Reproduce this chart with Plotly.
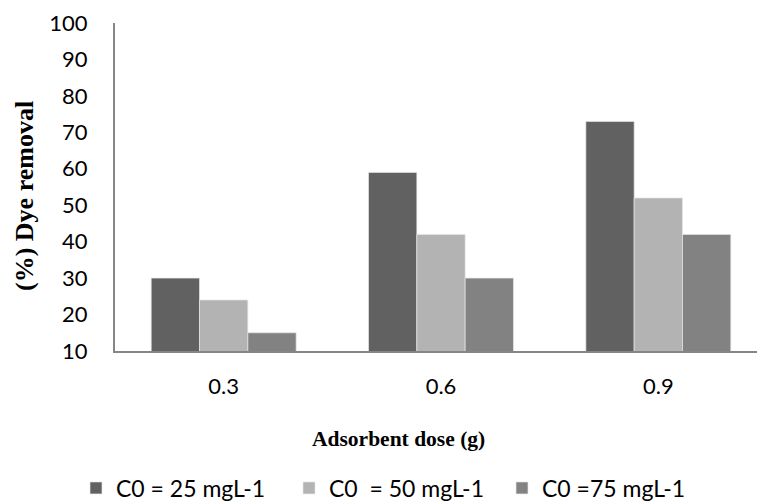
import plotly.graph_objects as go

categories = ["0.3", "0.6", "0.9"]
series_names = ["C0 = 25 mgL-1", "C0  = 50 mgL-1", "C0 =75 mgL-1"]
c25 = [30, 59, 73]
c50 = [24, 42, 52]
c75 = [15, 30, 42]
colors = ["#616161", "#b3b3b3", "#828282"]

fig = go.Figure()
for name, vals, col in zip(series_names, [c25, c50, c75], colors):
    fig.add_trace(go.Bar(x=categories, y=vals, name=name,
                         marker=dict(color=col, line=dict(color="#e6e6e6", width=0.7))))

tick_font = dict(family="Lato", size=22, color="#000000")

fig.update_layout(
    width=757, height=501,
    margin=dict(l=115, r=0, t=23, b=150),
    plot_bgcolor="white", paper_bgcolor="white",
    barmode="group", bargap=0.333, bargroupgap=0,
    showlegend=True,
    legend=dict(orientation="h", xref="container", yref="container",
                x=76 / 757, xanchor="left", y=1 - 488 / 501, yanchor="middle",
                font=dict(family="Lato", size=23, color="#000000"),
                entrywidth=168, traceorder="normal"),
    xaxis=dict(range=[-0.5, 2.454], showline=True, linecolor="#868686", linewidth=2,
               showgrid=False, ticks="", tickfont=tick_font, ticklabelstandoff=15),
    yaxis=dict(range=[10, 100], dtick=10, showline=True, linecolor="#868686", linewidth=2,
               showgrid=False, zeroline=False, ticks="", tickfont=tick_font,
               ticklabelstandoff=21),
    annotations=[
        dict(text="<b>Adsorbent dose (g)</b>", xref="paper", yref="paper",
             x=(398.5 - 115) / 642, y=(351 - 439) / 328, xanchor="center", yanchor="middle",
             showarrow=False, font=dict(family="Liberation Serif", size=21.5, color="#000000")),
        dict(text="<b>(%) Dye removal</b>", xref="paper", yref="paper",
             x=(24 - 115) / 642, y=(351 - 196) / 328, xanchor="center", yanchor="middle",
             textangle=-90, showarrow=False,
             font=dict(family="Liberation Serif", size=26, color="#000000")),
    ],
)

fig.write_html("out.html")
